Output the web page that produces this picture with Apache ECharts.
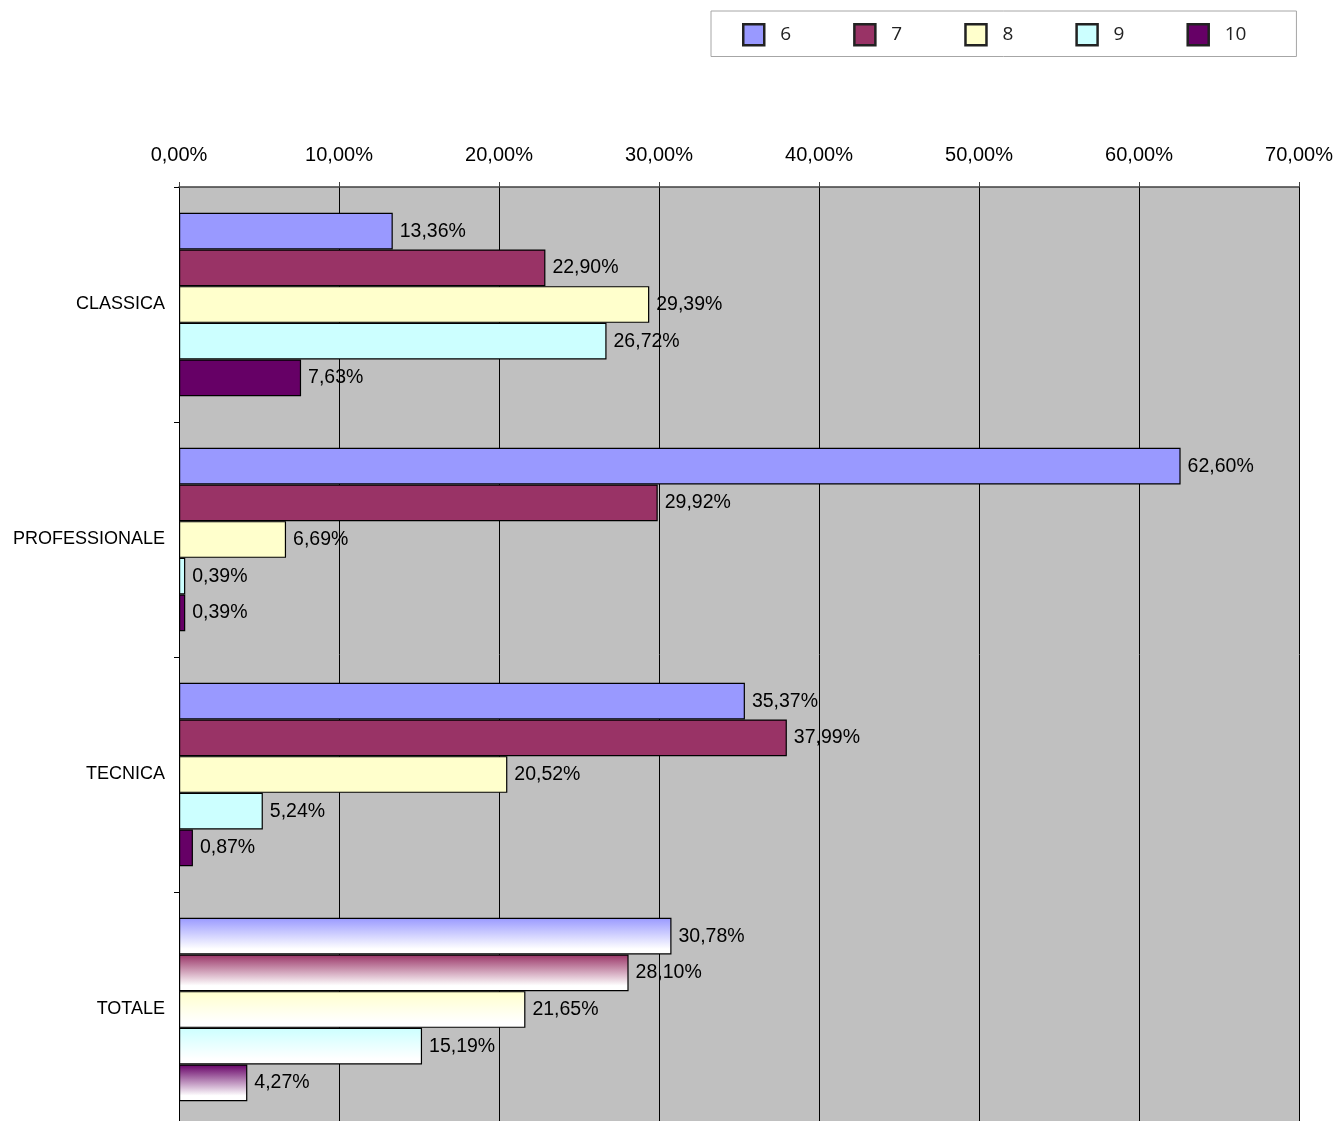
<!DOCTYPE html>
<html>
<head>
<meta charset="utf-8">
<title>Voti per indirizzo</title>
<script src="https://cdn.jsdelivr.net/npm/echarts@6/dist/echarts.min.js"></script>
<style>
  html, body { margin: 0; padding: 0; background: #ffffff; }
  #chart { width: 1337px; height: 1121px; }
</style>
</head>
<body>
<div id="chart"></div>
<script>
// School types (top to bottom)
const categories = ['CLASSICA', 'PROFESSIONALE', 'TECNICA', 'TOTALE'];

// Grade names used for the legend
const grades = ['6', '7', '8', '9', '10'];

// Share of students per grade, in percent, one value per school type
const grade6 = [13.36, 62.60, 35.37, 30.78];
const grade7 = [22.90, 29.92, 37.99, 28.10];
const grade8 = [29.39, 6.69, 20.52, 21.65];
const grade9 = [26.72, 0.39, 5.24, 15.19];
const grade10 = [7.63, 0.39, 0.87, 4.27];

// Value axis range
const axisMin = 0;
const axisMax = 70;
const axisStep = 10;

const seriesValues = [grade6, grade7, grade8, grade9, grade10];
const colors = ['#9999FF', '#993366', '#FFFFCC', '#CCFFFF', '#660066'];
const FONT = "'Liberation Sans', Arial, sans-serif";

const fmtPct = v => Number(v).toFixed(2).replace('.', ',') + '%';

const chart = echarts.init(document.getElementById('chart'), null, { renderer: 'canvas' });

const series = seriesValues.map((vals, si) => ({
  name: grades[si],
  type: 'bar',
  barGap: '0%',
  barCategoryGap: '22%',
  itemStyle: { color: colors[si], borderColor: '#000000', borderWidth: 1.2 },
  label: {
    show: true,
    position: 'right',
    distance: 7,
    color: '#000000',
    fontFamily: FONT,
    fontSize: 19.5,
    formatter: p => fmtPct(p.value)
  },
  // the total row is drawn with a fade to white
  data: vals.map((v, ci) => categories[ci] === 'TOTALE'
    ? {
        value: v,
        itemStyle: {
          color: new echarts.graphic.LinearGradient(0, 0, 0, 1, [
            { offset: 0, color: colors[si] },
            { offset: 0.85, color: '#ffffff' },
            { offset: 1, color: '#ffffff' }
          ])
        }
      }
    : v)
}));

chart.setOption({
  animation: false,
  backgroundColor: '#ffffff',
  legend: {
    data: grades,
    left: 711,
    top: 11,
    orient: 'horizontal',
    backgroundColor: '#ffffff',
    borderColor: '#a6a6a6',
    borderWidth: 1,
    padding: [12, 50, 10, 31],
    itemWidth: 21,
    itemHeight: 21,
    itemGap: 62,
    icon: 'rect',
    itemStyle: { borderColor: '#222222', borderWidth: 2.5 },
    textStyle: {
      fontFamily: "'Open Sans', 'Liberation Sans', sans-serif",
      fontSize: 19,
      color: '#222222',
      padding: [0, 0, 0, 11]
    }
  },
  grid: {
    left: 179,
    top: 187,
    width: 1120,
    height: 940,
    outerBoundsMode: 'none',
    show: true,
    backgroundColor: '#c0c0c0',
    borderWidth: 0,
    containLabel: false
  },
  xAxis: {
    type: 'value',
    position: 'top',
    min: axisMin,
    max: axisMax,
    interval: axisStep,
    axisLine: { show: true, lineStyle: { color: '#404040', width: 1.5 } },
    axisTick: { show: true, inside: false, length: 5, lineStyle: { color: '#404040' } },
    axisLabel: {
      margin: 22,
      color: '#000000',
      fontFamily: FONT,
      fontSize: 20,
      formatter: v => fmtPct(v)
    },
    splitLine: { show: true, lineStyle: { color: '#000000', width: 1 } }
  },
  yAxis: {
    type: 'category',
    data: categories,
    inverse: true,
    axisLine: { show: true, lineStyle: { color: '#000000', width: 1 } },
    axisTick: { show: true, length: 5, lineStyle: { color: '#000000' } },
    axisLabel: {
      margin: 14,
      color: '#000000',
      fontFamily: FONT,
      fontSize: 18
    },
    splitLine: { show: false }
  },
  series: series
});
</script>
</body>
</html>
